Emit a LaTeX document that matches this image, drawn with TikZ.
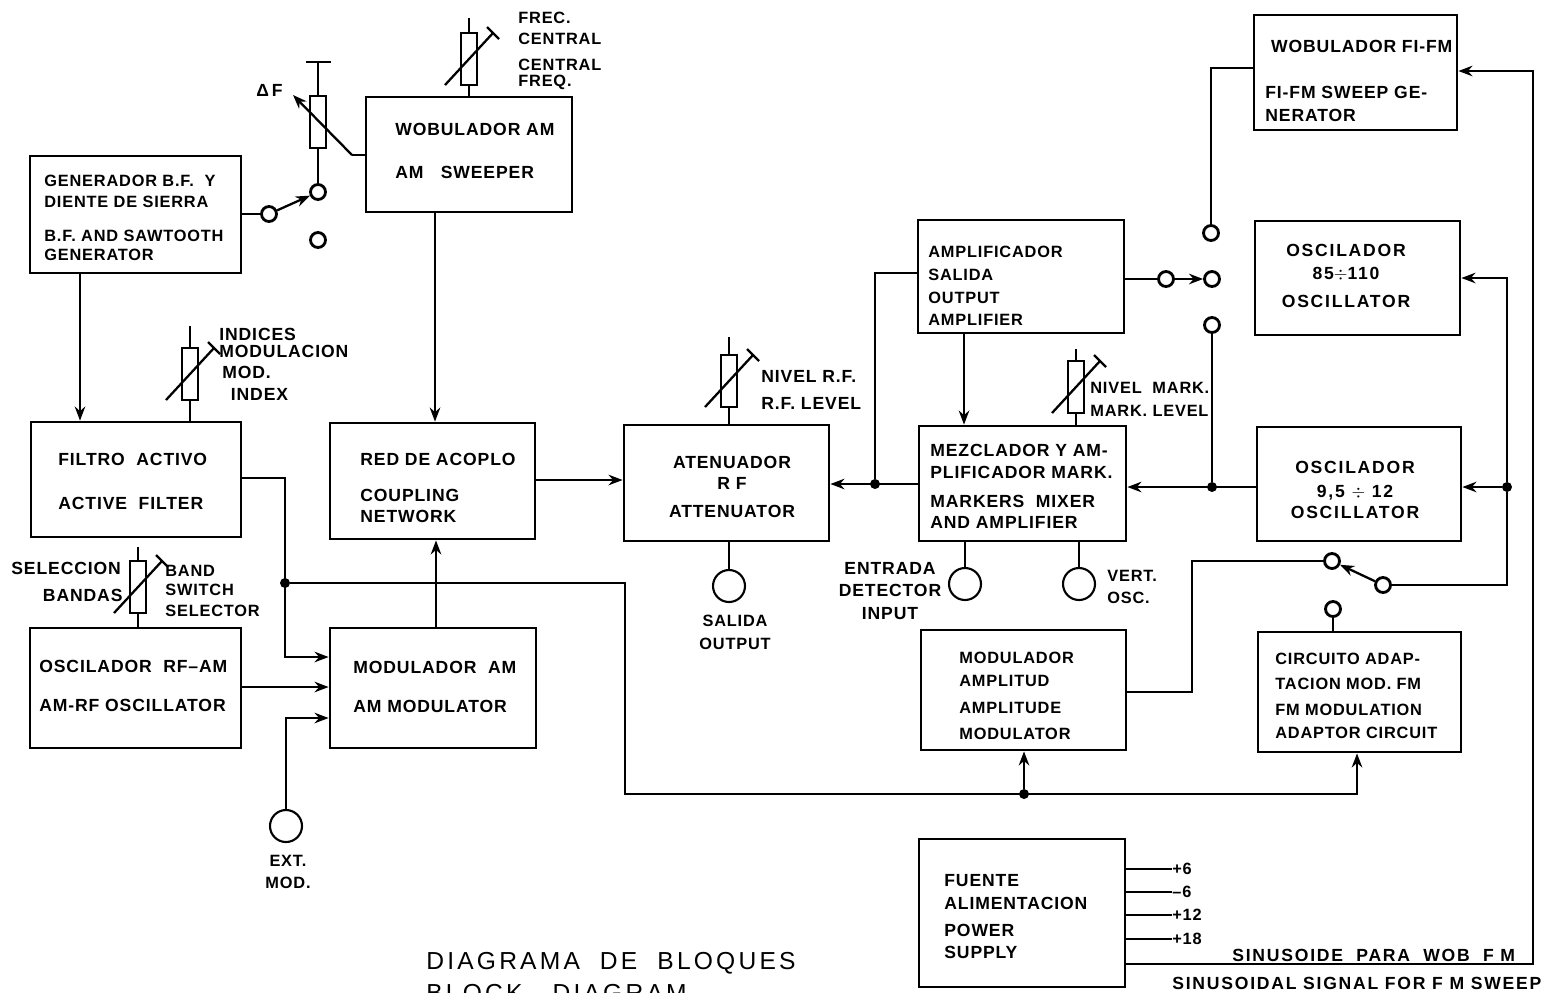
\documentclass[tikz,border=0pt]{standalone}
\usepackage{fontspec}
\setmainfont{Liberation Sans}[LetterSpace=5]
\usetikzlibrary{arrows.meta, positioning}

\begin{document}
\begin{tikzpicture}[
    x=0.02cm, y=-0.02cm,
    >={Stealth[length=8pt, width=6pt]},
    every node/.style={font=\fontsize{10}{13}\selectfont\bfseries},
    wire/.style={line width=1.3pt},
    block/.style 2 args={draw, line width=1.6pt, inner sep=0pt, minimum width=#1*0.02cm, minimum height=#2*0.02cm},
    potbox/.style={draw, line width=1.3pt, fill=white, inner sep=0pt, minimum width=0.33cm, minimum height=1.05cm},
    pin/.style={circle, draw, line width=1.6pt, fill=white, inner sep=0pt, minimum size=0.3cm},
    jack/.style={circle, draw, line width=1.2pt, inner sep=0pt, minimum size=0.64cm},
    dot/.style={circle, fill, inner sep=0pt, minimum size=0.2cm},
    lbl/.style={anchor=west, align=left, inner sep=0pt},
    ctr/.style={align=center, inner sep=0pt},
    tight/.style={font=\fontsize{9.3}{13}\selectfont\bfseries},
    wide/.style={font=\fontsize{10}{13}\selectfont\bfseries\addfontfeature{LetterSpace=10}},
    slash/.pic={\draw[wire] (-24,26) -- (24,-26); \draw[wire] (18,-32) -- (30,-20);},
]
\useasboundingbox (0,0) rectangle (1554,992);

% --- Blocks ---
\node[block={211}{117}] (gen) at (135.5,214.5) {};
\node[block={206}{115}] (wobam) at (469,154.5) {};
\node[block={210}{115}] (filtro) at (136,479.5) {};
\node[block={205}{116}] (red) at (432.5,481) {};
\node[block={211}{120}] (oscrf) at (135.5,688) {};
\node[block={206}{120}] (modam) at (433,688) {};
\node[block={205}{116}] (aten) at (726.5,483) {};
\node[block={206}{113}] (ampl) at (1021,276.5) {};
\node[block={207}{115}] (mez) at (1022.5,483.5) {};
\node[block={204}{114}] (oscnine) at (1359,484) {};
\node[block={205}{114}] (osceighty) at (1357.5,278) {};
\node[block={203}{115}] (wobfi) at (1355.5,72.5) {};
\node[block={205}{120}] (modamp) at (1023.5,690) {};
\node[block={203}{120}] (circ) at (1359.5,692) {};
\node[block={206}{148}] (fuente) at (1022,913) {};

% --- Block texts ---
\node[lbl, tight] (gen text) at (44,218) {GENERADOR B.F.\ \ Y\\[-1pt]DIENTE DE SIERRA\\[6pt]B.F. AND SAWTOOTH\\[-2pt]GENERATOR};
\node[lbl] (wobam text) at (395,151) {WOBULADOR AM\\[11pt]AM\ \ \ SWEEPER};
\node[lbl] (filtro text) at (58,481) {FILTRO\ \ ACTIVO\\[12pt]ACTIVE\ \ FILTER};
\node[lbl] (red text) at (360,488) {RED DE ACOPLO\\[7pt]COUPLING\\[-1pt]NETWORK};
\node[lbl] (oscrf text) at (39,686) {OSCILADOR\ \ RF--AM\\[9pt]AM-RF\ OSCILLATOR};
\node[lbl] (modam text) at (353,687) {MODULADOR\ \ AM\\[9pt]AM\ MODULATOR};
\node[ctr] (aten text) at (732,487) {ATENUADOR\\[-1pt]R F\\[3pt]ATTENUATOR};
\node[lbl, tight] (ampl text) at (928,286) {AMPLIFICADOR\\SALIDA\\OUTPUT\\AMPLIFIER};
\node[lbl] (mez text) at (930,486) {MEZCLADOR Y AM-\\PLIFICADOR MARK.\\[3pt]MARKERS\ \ MIXER\\[-1pt]AND AMPLIFIER};
\node[ctr, wide] (osceighty text) at (1346,276) {OSCILADOR\\85$\div$110\\[3pt]OSCILLATOR};
\node[ctr, wide] (oscnine text) at (1355,490) {OSCILADOR\\[1pt]9,5 $\div$ 12\\[-1pt]OSCILLATOR};
\node[lbl] (wobfi text) at (1265,81) {\ WOBULADOR FI-FM\\[13pt]FI-FM SWEEP GE-\\NERATOR};
\node[lbl, tight] (modamp text) at (959,696) {MODULADOR\\AMPLITUD\\[2pt]AMPLITUDE\\[2pt]MODULATOR};
\node[lbl, tight] (circ text) at (1275,696) {CIRCUITO ADAP-\\[1pt]TACION MOD. FM\\[2pt]FM MODULATION\\ADAPTOR CIRCUIT};
\node[lbl] (fuente text) at (944,917) {FUENTE\\ALIMENTACION\\[2pt]POWER\\SUPPLY};

% --- Potentiometers ---
\node[potbox] (potfreq) at (469,59) {};
\node[potbox] (potdelta) at (318,122) {};
\node[potbox] (potindex) at (190,374) {};
\node[potbox] (potlevel) at (729,381) {};
\node[potbox] (potmark) at (1076,387) {};
\node[potbox] (potband) at (138,587) {};
\pic at (469,59) {slash};
\pic at (190,374) {slash};
\pic at (729,381) {slash};
\pic at (1076,387) {slash};
\pic at (138,587) {slash};

\draw[wire] (potfreq.north) -- ++(0,-14);
\draw[wire] (potfreq.south) -- (wobam.north -| potfreq.south);
\draw[wire] (potindex.north) -- ++(0,-21);
\draw[wire] (potindex.south) -- (filtro.north -| potindex.south);
\draw[wire] (potlevel.north) -- ++(0,-17);
\draw[wire] (potlevel.south) -- (aten.north -| potlevel.south);
\draw[wire] (potmark.north) -- ++(0,-11);
\draw[wire] (potmark.south) -- (mez.north -| potmark.south);
\draw[wire] (potband.north) -- ++(0,-13);
\draw[wire] (potband.south) -- (oscrf.north -| potband.south);

% --- Delta F branch ---
\coordinate (dftop) at (318,62);
\coordinate (elbow) at (352,155);
\coordinate (dfend) at (293,95);
\draw[wire] (dftop) -- (potdelta.north);
\draw[wire] (306,62) -- (331,62);
\draw[wire] (wobam.west |- elbow) -- (elbow);
\draw[wire, ->] (elbow) -- (dfend);

% --- Switches ---
\node[pin] (swgena) at (269,214) {};
\node[pin] (swgenb) at (318,192) {};
\node[pin] (swgenc) at (318,240) {};
\draw[wire] (gen.east |- swgena) -- (swgena);
\draw[wire, ->] (swgena) -- (swgenb);
\draw[wire] (potdelta.south) -- (swgenb);

\node[pin] (swoutt) at (1211,233) {};
\node[pin] (swoutm) at (1212,279) {};
\node[pin] (swoutb) at (1212,325) {};
\node[pin] (swouta) at (1166,279) {};
\draw[wire] (ampl.east |- swouta) -- (swouta);
\draw[wire, ->] (swouta) -- (swoutm);

\node[pin] (swmoda) at (1383,585) {};
\node[pin] (swmodb) at (1332,561) {};
\node[pin] (swcirc) at (1333,609) {};
\draw[wire, ->] (swmoda) -- (swmodb);
\draw[wire] (swcirc) -- (circ.north -| swcirc);

% --- Junctions ---
\node[dot] (jfil) at (285,583) {};
\node[dot] (jamp) at (1024,794) {};
\node[dot] (jmez) at (875,484) {};
\node[dot] (josc) at (1212,487) {};
\node[dot] (jsup) at (1507,487) {};

% --- Jacks ---
\node[jack] (jackext) at (286,826) {};
\node[jack] (jackout) at (729,586) {};
\node[jack] (jackdet) at (965,584) {};
\node[jack] (jackvert) at (1079,584) {};

% --- Arrows ---
\draw[wire, ->] (gen.south -| 80,0) -- (filtro.north -| 80,0);
\draw[wire, ->] (wobam.south -| 435,0) -- (red.north -| 435,0);
\draw[wire, ->] (filtro.east |- 0,478) -- (285,478) -- (285,657) -- (modam.west |- 0,657);
\draw[wire, ->] (oscrf.east |- 0,687) -- (modam.west |- 0,687);
\draw[wire, ->] (jackext) -- (286,718) -- (modam.west |- 0,718);
\draw[wire, ->] (modam.north -| 436,0) -- (red.south -| 436,0);
\draw[wire, ->] (red.east |- 0,480) -- (aten.west |- 0,480);
\draw[wire, ->] (jfil) -- (625,583) -- (625,794) -- (1357,794) -- (circ.south -| 1357,0);
\draw[wire, ->] (jamp) -- (modamp.south -| jamp);
\draw[wire, ->] (mez.west |- jmez) -- (aten.east |- jmez);
\draw[wire] (jmez) -- (875,273) -- (ampl.west |- 0,273);
\draw[wire, ->] (ampl.south -| 964,0) -- (mez.north -| 964,0);
\draw[wire, ->] (oscnine.west |- josc) -- (mez.east |- josc);
\draw[wire] (josc) -- (swoutb);
\draw[wire] (swoutt) -- (1211,68) -- (wobfi.west |- 0,68);
\draw[wire, ->] (jsup) -- (oscnine.east |- jsup);
\draw[wire, ->] (jsup) -- (1507,278) -- (osceighty.east |- 0,278);
\draw[wire] (jsup) -- (1507,585) -- (swmoda);
\draw[wire] (swmodb) -- (1192,561) -- (1192,692) -- (modamp.east |- 0,692);
\draw[wire] (aten.south -| jackout) -- (jackout);
\draw[wire] (mez.south -| jackdet) -- (jackdet);
\draw[wire] (mez.south -| jackvert) -- (jackvert);

% --- Power rails ---
\node[lbl, tight] (railsix) at (1172,869) {+6};
\node[lbl, tight] (railminus) at (1172,892) {--6};
\node[lbl, tight] (railtwelve) at (1172,915) {+12};
\node[lbl, tight] (raileighteen) at (1172,939) {+18};
\draw[wire] (fuente.east |- railsix) -- (railsix);
\draw[wire] (fuente.east |- railminus) -- (railminus);
\draw[wire] (fuente.east |- railtwelve) -- (railtwelve);
\draw[wire] (fuente.east |- raileighteen) -- (raileighteen);
\draw[wire, ->] (fuente.east |- 0,964) -- (1533,964) -- (1533,71) -- (wobfi.east |- 0,71);

% --- Control labels ---
\node[lbl, tight] (freqlbl) at (518,51) {FREC.\\[-1pt]CENTRAL\\[2pt]CENTRAL\\[-4pt]FREQ.};
\node[lbl] (deltalbl) at (256,90) {Δ\,F};
\node[lbl] (indexlbl) at (219,364) {INDICES\\[-3pt]MODULACION\\[-1pt]\,MOD.\\[-1pt]\ \ INDEX};
\node[lbl] (levellbl) at (761,390) {NIVEL R.F.\\[2pt]R.F. LEVEL};
\node[lbl, tight] (marklbl) at (1090,399) {NIVEL\ \ MARK.\\MARK. LEVEL};
\node[lbl] (bandlbl) at (11,582) {SELECCION\\[2pt]\hspace*{18pt}BANDAS};
\node[lbl, tight] (switchlbl) at (165,591) {BAND\\[-2pt]SWITCH\\[-1pt]SELECTOR};
\node[ctr, tight] (outlbl) at (735,632) {SALIDA\\OUTPUT};
\node[ctr] (detlbl) at (890,591) {ENTRADA\\DETECTOR\\INPUT};
\node[lbl, tight] (vertlbl) at (1107,587) {VERT.\\OSC.};
\node[ctr, tight] (extlbl) at (288,872) {EXT.\\MOD.};

% --- Caption ---
\node[lbl, font=\fontsize{14}{18}\selectfont\addfontfeature{LetterSpace=13}] (title) at (426,977) {DIAGRAMA\ \ DE\ \ BLOQUES\\[0pt]BLOCK\ \ \ DIAGRAM};
\node[lbl, wide] (sinelbl) at (1232,955) {SINUSOIDE\ \ PARA\ \ WOB\ \ F M};
\node[lbl, wide] (sineenlbl) at (1172,983) {SINUSOIDAL\ SIGNAL\ FOR F M\ SWEEP};

\end{tikzpicture}
\end{document}
